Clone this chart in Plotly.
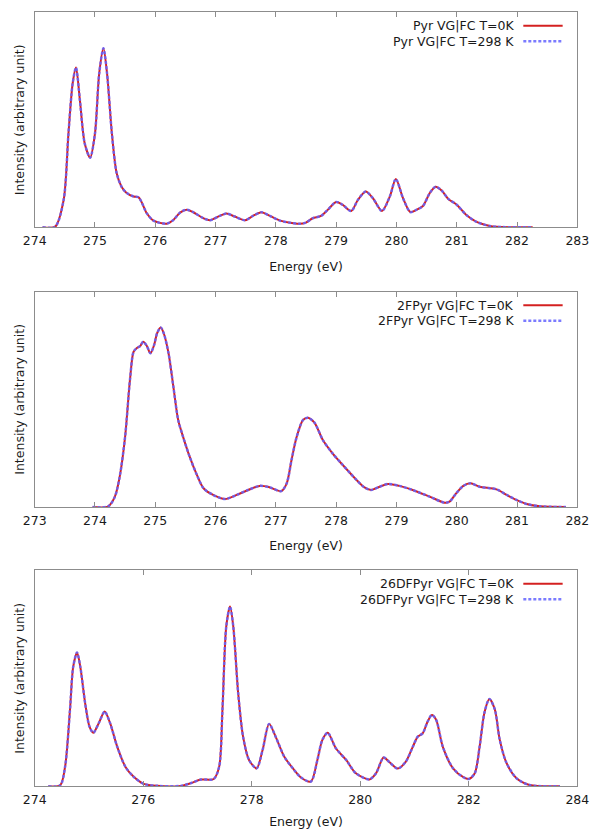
import plotly.graph_objects as go

# ---------------- data ----------------
pyr_E = [274.13, 274.34, 274.48, 274.56, 274.63, 274.685, 274.75, 274.83, 274.92, 275.0,
         275.07, 275.14, 275.20, 275.28, 275.36, 275.44, 275.52, 275.64, 275.72, 275.77,
         275.86, 275.97, 276.19, 276.30, 276.41, 276.52, 276.63, 276.80, 276.91, 277.07,
         277.18, 277.32, 277.49, 277.62, 277.76, 277.90, 278.07, 278.29, 278.39, 278.50,
         278.61, 278.75, 278.86, 279.0, 279.11, 279.25, 279.36, 279.49, 279.61, 279.76,
         279.89, 279.99, 280.11, 280.23, 280.33, 280.44, 280.55, 280.65, 280.75, 280.86,
         281.0, 281.16, 281.33, 281.55, 281.66, 282.26]
pyr_I = [0.0, 0.003, 0.127, 0.437, 0.67, 0.743, 0.59, 0.39, 0.324, 0.437,
         0.716, 0.833, 0.716, 0.437, 0.251, 0.189, 0.161, 0.143, 0.140, 0.119,
         0.065, 0.031, 0.017, 0.034, 0.068, 0.082, 0.070, 0.042, 0.033, 0.053,
         0.064, 0.050, 0.033, 0.053, 0.070, 0.053, 0.031, 0.019, 0.016, 0.022,
         0.042, 0.053, 0.081, 0.118, 0.104, 0.076, 0.127, 0.166, 0.135, 0.076,
         0.143, 0.225, 0.135, 0.071, 0.081, 0.099, 0.158, 0.189, 0.171, 0.132,
         0.105, 0.057, 0.025, 0.006, 0.002, 0.0]

f2_E = [273.96, 274.22, 274.33, 274.41, 274.50, 274.58, 274.64, 274.69, 274.75, 274.80,
        274.86, 274.92, 274.98, 275.03, 275.09, 275.14, 275.22, 275.30, 275.38, 275.46,
        275.57, 275.69, 275.80, 275.96, 276.16, 276.35, 276.54, 276.73, 276.90, 277.09,
        277.18, 277.26, 277.34, 277.45, 277.53, 277.64, 277.78, 277.94, 278.11, 278.33,
        278.47, 278.58, 278.72, 278.86, 279.05, 279.27, 279.55, 279.80, 279.88, 279.99,
        280.11, 280.23, 280.38, 280.66, 280.83, 280.99, 281.16, 281.38, 281.81]
f2_I = [0.0, 0.003, 0.048, 0.141, 0.327, 0.59, 0.721, 0.737, 0.748, 0.768,
        0.748, 0.714, 0.752, 0.807, 0.834, 0.807, 0.714, 0.559, 0.404, 0.327,
        0.234, 0.149, 0.087, 0.056, 0.037, 0.056, 0.079, 0.098, 0.091, 0.074,
        0.110, 0.218, 0.320, 0.404, 0.415, 0.392, 0.311, 0.249, 0.195, 0.128,
        0.091, 0.079, 0.094, 0.107, 0.098, 0.079, 0.048, 0.020, 0.025, 0.063,
        0.098, 0.110, 0.094, 0.082, 0.056, 0.033, 0.014, 0.003, 0.0]

df_E = [274.25, 274.47, 274.56, 274.65, 274.71, 274.78, 274.84, 274.93, 275.01, 275.08,
        275.18, 275.29, 275.39, 275.52, 275.67, 275.82, 276.01, 276.26, 276.69, 276.87,
        277.06, 277.30, 277.40, 277.46, 277.53, 277.60, 277.66, 277.75, 277.84, 277.95,
        278.09, 278.20, 278.32, 278.44, 278.60, 278.78, 278.90, 279.09, 279.21, 279.30,
        279.40, 279.55, 279.74, 279.92, 280.17, 280.29, 280.43, 280.54, 280.69, 280.84,
        280.97, 281.06, 281.15, 281.24, 281.32, 281.40, 281.52, 281.71, 281.90, 282.00,
        282.11, 282.20, 282.29, 282.38, 282.48, 282.57, 282.69, 282.88, 283.12, 283.68]
df_I = [0.0, 0.005, 0.091, 0.353, 0.554, 0.620, 0.554, 0.384, 0.276, 0.248,
        0.292, 0.346, 0.292, 0.184, 0.091, 0.045, 0.011, 0.002, 0.002, 0.014,
        0.031, 0.034, 0.091, 0.353, 0.739, 0.832, 0.739, 0.431, 0.230, 0.122,
        0.083, 0.168, 0.289, 0.230, 0.137, 0.076, 0.042, 0.022, 0.122, 0.214,
        0.248, 0.176, 0.122, 0.060, 0.032, 0.060, 0.133, 0.111, 0.082, 0.114,
        0.184, 0.230, 0.245, 0.299, 0.330, 0.307, 0.184, 0.083, 0.042, 0.034,
        0.060, 0.184, 0.343, 0.404, 0.356, 0.216, 0.111, 0.037, 0.006, 0.0]

molecules = ["Pyr", "2FPyr", "26DFPyr"]
x_ranges = [[274, 283], [273, 282], [274, 284]]
x_dticks = [1, 1, 2]
series_labels = ["VG|FC T=0K", "VG|FC T=298 K"]
energies = [pyr_E, f2_E, df_E]
intensities = [pyr_I, f2_I, df_I]

# ---------------- layout geometry ----------------
W, H = 592, 829
x0_px, x1_px = 34.7, 577.3
panels_px = [(12.3, 227.3), (291.7, 507.0), (570.3, 786.3)]

RED = "#d42020"
BLUE = "rgba(100,100,255,0.85)"
FONT = "DejaVu Sans, Verdana, sans-serif"
FS = 12.5
TXT = "#1a1a1a"

fig = go.Figure()
layout = dict(
    width=W, height=H,
    margin=dict(l=0, r=0, t=0, b=0),
    paper_bgcolor="white", plot_bgcolor="white",
    showlegend=False,
    font=dict(family=FONT, size=FS, color=TXT),
)
annotations = []
shapes = []

for i in range(3):
    sfx = "" if i == 0 else str(i + 1)
    xa, ya = "x" + sfx, "y" + sfx
    top, bot = panels_px[i]
    fig.add_trace(go.Scatter(
        x=energies[i], y=intensities[i], xaxis=xa, yaxis=ya, mode="lines",
        line=dict(color=RED, width=2, shape="spline", smoothing=0.8),
        name=f"{molecules[i]} {series_labels[0]}"))
    fig.add_trace(go.Scatter(
        x=energies[i], y=intensities[i], xaxis=xa, yaxis=ya, mode="lines",
        line=dict(color=BLUE, width=2.5, shape="spline", smoothing=0.8, dash="3px,2px"),
        name=f"{molecules[i]} {series_labels[1]}"))

    layout["xaxis" + sfx] = dict(
        domain=[x0_px / W, x1_px / W], anchor=ya,
        range=x_ranges[i], dtick=x_dticks[i], tick0=0,
        showgrid=False, zeroline=False,
        showline=True, linecolor="#8c8c8c", linewidth=1, mirror="ticks",
        ticks="inside", ticklen=5, tickcolor="#8c8c8c",
        ticklabelstandoff=2,
        tickfont=dict(family=FONT, size=FS, color=TXT),
        title=dict(text="Energy (eV)", standoff=14,
                   font=dict(family=FONT, size=FS, color=TXT)),
        automargin=False,
    )
    layout["yaxis" + sfx] = dict(
        domain=[1 - bot / H, 1 - top / H], anchor=xa,
        range=[0, 1], showgrid=False, zeroline=False,
        showline=True, linecolor="#8c8c8c", linewidth=1, mirror=True,
        ticks="", showticklabels=False,
        title=dict(text="Intensity (arbitrary unit)", standoff=6,
                   font=dict(family=FONT, size=FS, color=TXT)),
        automargin=False,
    )

    # gnuplot-style key: text then sample line, top-right inside the panel
    ph = bot - top
    for j, (col, dash, wd) in enumerate([(RED, "solid", 2), (BLUE, "3px,2px", 2.5)]):
        yd = 1 - (13.5 + 15.5 * j) / ph
        annotations.append(dict(
            xref=xa + " domain", yref=ya + " domain", x=0.8865, y=yd,
            xanchor="right", yanchor="middle", showarrow=False,
            text=f"{molecules[i]} {series_labels[j]}",
            font=dict(family=FONT, size=FS, color=TXT)))
        shapes.append(dict(
            type="line", xref=xa + " domain", yref=ya + " domain",
            x0=0.9005, x1=0.973, y0=yd, y1=yd,
            line=dict(color=col, width=wd, dash=dash)))

layout["annotations"] = annotations
layout["shapes"] = shapes
fig.update_layout(**layout)
fig.write_html("out.html")
